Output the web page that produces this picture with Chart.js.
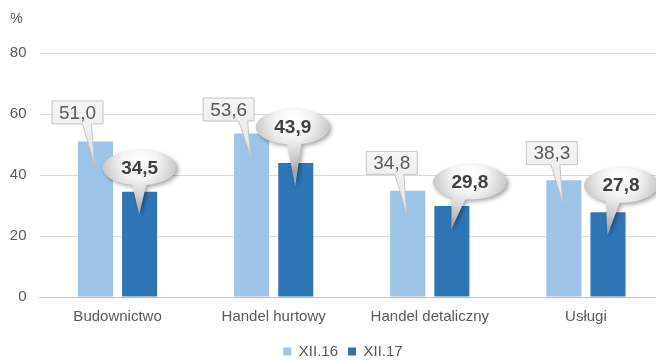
<!DOCTYPE html>
<html lang="pl">
<head>
<meta charset="UTF-8">
<title>Sektory XII.16 / XII.17</title>
<script src="https://cdn.jsdelivr.net/npm/chart.js@4.4.1/dist/chart.umd.min.js"></script>
<style>
    html, body {
        margin: 0;
        padding: 0;
        background: #ffffff;
        overflow: hidden;
    }
    #wrap {
        position: relative;
        width: 672px;
        height: 360px;
    }
</style>
</head>
<body>
<div id="wrap"><canvas id="myChart" width="672" height="360"></canvas></div>
<script>
    var categories = ['Budownictwo', 'Handel hurtowy', 'Handel detaliczny', 'Usługi'];
    var seriesNames = ['XII.16', 'XII.17'];
    var values16 = [51.0, 53.6, 34.8, 38.3];
    var values17 = [34.5, 43.9, 29.8, 27.8];
    var yTicks = [0, 20, 40, 60, 80];

    // where each callout sits, relative to the top centre of its bar (px)
    var boxShift = [[-18, -29], [-23, -24], [-16, -28], [-12, -27]];
    var bubbleShift = [[0, -24], [-3, -36], [18, -24], [13, -27]];

    var FONT = "'Liberation Sans', Arial, sans-serif";

    function fmt(v) {
        return v.toFixed(1).replace('.', ',');
    }

    // rectangular note with a thin tail pointing into the bar
    function drawBox(ctx, bar, v, s) {
        var w = 51, h = 23;
        var cx = bar.x + s[0], cy = bar.y + s[1];
        var l = cx - w / 2, t = cy - h / 2;
        var tipX = bar.x - 1, tipY = bar.y + 23;
        var b1 = Math.min(tipX - 3, l + w - 2);
        var b0 = b1 - 9;

        ctx.save();
        var g = ctx.createLinearGradient(0, t, 0, tipY);
        g.addColorStop(0, '#f6f6f6');
        g.addColorStop(1, '#e4e4e4');
        ctx.beginPath();
        ctx.moveTo(l, t);
        ctx.lineTo(l + w, t);
        ctx.lineTo(l + w, t + h);
        ctx.lineTo(b1, t + h);
        ctx.lineTo(tipX, tipY);
        ctx.lineTo(b0, t + h);
        ctx.lineTo(l, t + h);
        ctx.closePath();
        ctx.fillStyle = g;
        ctx.fill();
        ctx.strokeStyle = '#c4c4c4';
        ctx.lineWidth = 1;
        ctx.stroke();

        ctx.fillStyle = '#595959';
        ctx.font = '19px ' + FONT;
        ctx.textAlign = 'center';
        ctx.textBaseline = 'middle';
        ctx.fillText(fmt(v), cx, cy + 1);
        ctx.restore();
    }

    // silver speech bubble
    function drawBubble(ctx, bar, v, s) {
        var rx = 37, ry = 17.5;
        var cx = bar.x + s[0], cy = bar.y + s[1];
        var tipX = bar.x - 0.5, tipY = bar.y + 23;
        var bx = cx + (tipX - cx) * 0.55, by = cy + ry * 0.7;

        ctx.save();
        var g = ctx.createRadialGradient(cx, cy - ry * 0.5, 2, cx, cy - ry * 0.2, rx * 1.3);
        g.addColorStop(0, '#ffffff');
        g.addColorStop(0.35, '#f4f4f4');
        g.addColorStop(0.7, '#cfcfcf');
        g.addColorStop(1, '#a8a8a8');

        ctx.beginPath();
        ctx.ellipse(cx, cy, rx, ry, 0, 0, Math.PI * 2);
        ctx.moveTo(bx - 8, by);
        ctx.lineTo(bx + 8, by);
        ctx.lineTo(tipX, tipY);
        ctx.closePath();
        ctx.shadowColor = 'rgba(0,0,0,0.35)';
        ctx.shadowBlur = 4;
        ctx.shadowOffsetX = 2;
        ctx.shadowOffsetY = 2;
        ctx.fillStyle = g;
        ctx.fill('nonzero');
        ctx.restore();

        ctx.save();
        ctx.fillStyle = '#404040';
        ctx.font = 'bold 19px ' + FONT;
        ctx.textAlign = 'center';
        ctx.textBaseline = 'middle';
        ctx.fillText(fmt(v), cx, cy + 1);
        ctx.restore();
    }

    var callouts = {
        id: 'callouts',
        afterLayout: function (chart) {
            // legend sits a little right of the page centre
            chart.legend.left += 11;
            chart.legend.right += 11;
        },
        afterDatasetsDraw: function (chart) {
            var ctx = chart.ctx;
            chart.getDatasetMeta(0).data.forEach(function (bar, i) {
                drawBox(ctx, bar, values16[i], boxShift[i]);
            });
            chart.getDatasetMeta(1).data.forEach(function (bar, i) {
                drawBubble(ctx, bar, values17[i], bubbleShift[i]);
            });

            // unit above the value axis
            var y = chart.scales.y;
            ctx.save();
            ctx.fillStyle = '#595959';
            ctx.font = '14px ' + FONT;
            ctx.textAlign = 'center';
            ctx.textBaseline = 'middle';
            ctx.fillText('%', y.right - 23, y.top - 34);
            ctx.restore();
        }
    };

    function createChart() {
        var ctx = document.getElementById('myChart').getContext('2d');
        new Chart(ctx, {
            type: 'bar',
            data: {
                labels: categories,
                datasets: [
                    {
                        label: seriesNames[0],
                        data: values16,
                        backgroundColor: '#9dc3e6',
                        barPercentage: 0.795,
                        categoryPercentage: 0.565
                    },
                    {
                        label: seriesNames[1],
                        data: values17,
                        backgroundColor: '#2e75b6',
                        barPercentage: 0.795,
                        categoryPercentage: 0.565
                    }
                ]
            },
            options: {
                responsive: false,
                animation: false,
                layout: {
                    padding: { left: 0, right: 8, top: 53, bottom: -9 }
                },
                plugins: {
                    tooltip: { enabled: false },
                    legend: {
                        position: 'bottom',
                        labels: {
                            boxWidth: 8,
                            boxHeight: 8,
                            padding: 10,
                            color: '#595959',
                            font: { family: FONT, size: 15 }
                        }
                    }
                },
                scales: {
                    x: {
                        grid: { display: false, drawTicks: false },
                        border: { display: true, color: '#bfbfbf', width: 1 },
                        ticks: {
                            color: '#595959',
                            padding: 11,
                            font: { family: FONT, size: 15 }
                        },
                        afterFit: function (scale) { scale.height = 37; }
                    },
                    y: {
                        min: 0,
                        max: 80,
                        afterBuildTicks: function (scale) {
                            scale.ticks = yTicks.map(function (v) { return { value: v }; });
                        },
                        grid: { color: '#d9d9d9', drawTicks: false },
                        border: { display: false },
                        ticks: {
                            color: '#595959',
                            padding: 13,
                            font: { family: FONT, size: 15 }
                        },
                        afterFit: function (scale) { scale.width = 39.5; }
                    }
                }
            },
            plugins: [callouts]
        });
    }

    createChart();
</script>
</body>
</html>
